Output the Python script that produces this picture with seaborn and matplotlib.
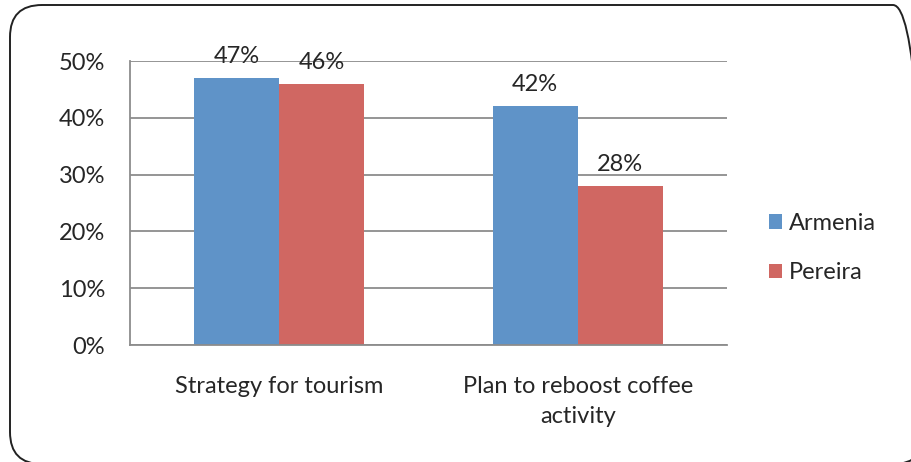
import pandas as pd
import matplotlib.pyplot as plt
import seaborn as sns
from matplotlib.patches import FancyBboxPatch, Patch
from matplotlib.transforms import IdentityTransform

# data
categories = ['Strategy for tourism', 'Plan to reboost coffee\nactivity']
series = ['Armenia', 'Pereira']
armenia = [47, 42]
pereira = [46, 28]
colors = ['#5F93C8', '#D06762']

df = pd.DataFrame({
    'category': categories * 2,
    'city': [series[0]] * 2 + [series[1]] * 2,
    'value': armenia + pereira,
})

sns.set_style('white')
plt.rcParams['font.family'] = ['Lato', 'DejaVu Sans']
fs = 17

fig = plt.figure(figsize=(9.11, 4.62), dpi=100)
ax = fig.add_axes([130 / 911, 1 - 345 / 462, 597 / 911, 284 / 462])

sns.barplot(data=df, x='category', y='value', hue='city', palette=colors,
            width=0.57, gap=0, saturation=1, ax=ax, legend=False,
            edgecolor='none', linewidth=0)

# value labels above bars
for cont in ax.containers:
    ax.bar_label(cont, labels=[f'{int(v)}%' for v in cont.datavalues],
                 padding=8, fontsize=fs)

ax.set_ylim(0, 50)
ax.set_xlim(-0.5, 1.5)
ax.set_yticks(range(0, 51, 10))
ax.set_yticklabels([f'{t}%' for t in range(0, 51, 10)])
ax.yaxis.grid(True, color='#8C8C8C', linewidth=1.3)
ax.set_axisbelow(True)
for s in ['top', 'right']:
    ax.spines[s].set_visible(False)
ax.spines['left'].set_color('#8C8C8C')
ax.spines['bottom'].set_color('#8C8C8C')
ax.spines['left'].set_linewidth(1.3)
ax.spines['bottom'].set_linewidth(1.3)
ax.tick_params(axis='y', length=0, pad=18, labelsize=fs)
ax.tick_params(axis='x', length=0, pad=22, labelsize=fs)
for lbl in ax.get_xticklabels():
    lbl.set_linespacing(1.55)
ax.set_xlabel('')
ax.set_ylabel('')

handles = [Patch(facecolor=c, edgecolor='none', label=s) for c, s in zip(colors, series)]
fig.legend(handles=handles, loc='center left', bbox_to_anchor=(769 / 911, 1 - 248 / 462),
           frameon=False, fontsize=fs, handlelength=0.55, handleheight=0.55,
           handletextpad=0.3, labelspacing=1.2, borderpad=0, borderaxespad=0)

# rounded chart border like the spreadsheet frame
border = FancyBboxPatch((10, -2), 915, 459, boxstyle='round,pad=0,rounding_size=32',
                        transform=IdentityTransform(), facecolor='none',
                        edgecolor='#222222', linewidth=1.4)
fig.add_artist(border)

fig.savefig('out.png', dpi=100)
